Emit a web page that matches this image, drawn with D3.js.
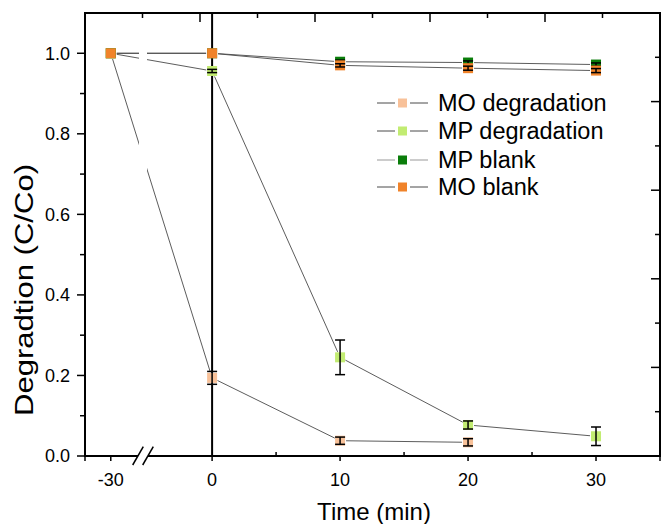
<!DOCTYPE html>
<html><head><meta charset="utf-8">
<script src="https://cdn.jsdelivr.net/npm/d3@7"></script>
<style>body{margin:0;background:#fff}svg{display:block;font-family:"Liberation Sans",Arial,sans-serif}</style>
</head><body>
<script>
// ---- data ----
const times = [-30, 0, 10, 20, 30];
const seriesNames = ["MO degradation", "MP degradation", "MP blank", "MO blank"];
const seriesColors = ["#f8c199", "#c2ec72", "#0a7d0a", "#f0832a"];
const moDegradation = [1.0, 0.194, 0.038, 0.034, null];
const moDegradationErr = [0, 0.016, 0.009, 0.009, null];
const mpDegradation = [1.0, 0.956, 0.245, 0.077, 0.049];
const mpDegradationErr = [0, 0.004, 0.043, 0.010, 0.023];
const mpBlank = [1.0, 1.0, 0.979, 0.977, 0.972];
const mpBlankErr = [0, 0, 0.004, 0.004, 0.004];
const moBlank = [1.0, 1.0, 0.970, 0.963, 0.957];
const moBlankErr = [0, 0, 0.004, 0.005, 0.005];
const xTicks = [-30, 0, 10, 20, 30];
const xMinorTicks = [5, 15, 25];
const yTicks = [0, 0.2, 0.4, 0.6, 0.8, 1.0];
const yMinorTicks = [0.1, 0.3, 0.5, 0.7, 0.9];

const values = [moDegradation, mpDegradation, mpBlank, moBlank];
const errors = [moDegradationErr, mpDegradationErr, mpBlankErr, moBlankErr];

// ---- layout ----
const W = 662, H = 524;
const L = 85, R = 660, T = 13, B = 456;
const BRK = 143;

const x = d3.scaleLinear().domain([-32, -27.5, -5.4, 35]).range([L, BRK, BRK, R]);
const y = d3.scaleLinear().domain([0, 1.1]).range([B, T]);
// second layer (top / right) axes
const x2 = d3.scaleLinear().domain([0, 5]).range([L, R]);
const y2 = d3.scaleLinear().domain([0, 5]).range([B, T]);

const svg = d3.select("body").append("svg").attr("width", W).attr("height", H);

// ---- connecting lines ----
const gap = 6;
const lineG = svg.append("g").attr("stroke", "#4a4a4a").attr("stroke-width", 0.9).attr("fill", "none");
values.forEach((vals, si) => {
  for (let i = 0; i < times.length - 1; i++) {
    if (vals[i] == null || vals[i + 1] == null) continue;
    const x1 = x(times[i]), y1 = y(vals[i]), xx2 = x(times[i + 1]), yy2 = y(vals[i + 1]);
    const dx = xx2 - x1, dy = yy2 - y1, len = Math.hypot(dx, dy);
    const ux = dx / len, uy = dy / len;
    lineG.append("line")
      .attr("x1", x1 + ux * gap).attr("y1", y1 + uy * gap)
      .attr("x2", xx2 - ux * gap).attr("y2", yy2 - uy * gap);
  }
});

// axis break gap in plot
svg.append("rect").attr("x", 139).attr("y", T + 2).attr("width", 8).attr("height", B - T - 4).attr("fill", "#fff");

// vertical line at t = 0
svg.append("line").attr("x1", x(0)).attr("x2", x(0)).attr("y1", T).attr("y2", B)
  .attr("stroke", "#000").attr("stroke-width", 2);

// ---- markers and error bars ----
const ms = 10;
values.forEach((vals, si) => {
  const g = svg.append("g");
  times.forEach((t, i) => {
    if (vals[i] == null) return;
    g.append("rect").attr("x", x(t) - ms / 2).attr("y", y(vals[i]) - ms / 2)
      .attr("width", ms).attr("height", ms).attr("fill", seriesColors[si]);
  });
  times.forEach((t, i) => {
    const e = errors[si][i];
    if (vals[i] == null || !e) return;
    const cx = x(t), yt = y(vals[i] + e), yb = y(vals[i] - e);
    const eg = g.append("g").attr("stroke", "#000").attr("stroke-width", 1.5);
    eg.append("line").attr("x1", cx).attr("x2", cx).attr("y1", yt).attr("y2", yb);
    eg.append("line").attr("x1", cx - 5).attr("x2", cx + 5).attr("y1", yt).attr("y2", yt);
    eg.append("line").attr("x1", cx - 5).attr("x2", cx + 5).attr("y1", yb).attr("y2", yb);
  });
});

// ---- axes ----
const ax = svg.append("g").attr("stroke", "#000").attr("fill", "none");
// left
ax.append("line").attr("x1", L).attr("x2", L).attr("y1", T - 1).attr("y2", B + 1).attr("stroke-width", 2);
yTicks.forEach(v => ax.append("line").attr("x1", L - 8).attr("x2", L).attr("y1", y(v)).attr("y2", y(v)).attr("stroke-width", 1.5));
yMinorTicks.forEach(v => ax.append("line").attr("x1", L - 5).attr("x2", L).attr("y1", y(v)).attr("y2", y(v)).attr("stroke-width", 1.5));
// bottom (with break)
ax.append("line").attr("x1", L - 1).attr("x2", 138).attr("y1", B).attr("y2", B).attr("stroke-width", 2);
ax.append("line").attr("x1", 148).attr("x2", R + 1).attr("y1", B).attr("y2", B).attr("stroke-width", 2);
xTicks.concat([-32, 35]).forEach(v => ax.append("line").attr("x1", x(v)).attr("x2", x(v)).attr("y1", B).attr("y2", B + 5).attr("stroke-width", 1.5));
xMinorTicks.forEach(v => ax.append("line").attr("x1", x(v)).attr("x2", x(v)).attr("y1", B).attr("y2", B - 4).attr("stroke-width", 1.5));
// break slashes
ax.append("line").attr("x1", 132.7).attr("y1", 465).attr("x2", 143.3).attr("y2", 446.7).attr("stroke-width", 1.5);
ax.append("line").attr("x1", 142.7).attr("y1", 465).attr("x2", 153.3).attr("y2", 446.7).attr("stroke-width", 1.5);
// top
ax.append("line").attr("x1", L - 1).attr("x2", R + 1).attr("y1", T).attr("y2", T).attr("stroke-width", 2);
d3.range(0, 5.01, 1).forEach(v => ax.append("line").attr("x1", x2(v)).attr("x2", x2(v)).attr("y1", T).attr("y2", T + 9).attr("stroke-width", 1.5));
d3.range(0.5, 5, 1).forEach(v => ax.append("line").attr("x1", x2(v)).attr("x2", x2(v)).attr("y1", T).attr("y2", T + 5).attr("stroke-width", 1.5));
// right
ax.append("line").attr("x1", R).attr("x2", R).attr("y1", T - 1).attr("y2", B + 1).attr("stroke-width", 2);
d3.range(0, 5.01, 1).forEach(v => ax.append("line").attr("x1", R - 9).attr("x2", R).attr("y1", y2(v)).attr("y2", y2(v)).attr("stroke-width", 1.5));
d3.range(0.5, 5, 1).forEach(v => ax.append("line").attr("x1", R - 5).attr("x2", R).attr("y1", y2(v)).attr("y2", y2(v)).attr("stroke-width", 1.5));

// tick labels
const fmt = d3.format(".1f");
svg.append("g").selectAll("text").data(yTicks).join("text")
  .attr("x", 70).attr("y", d => y(d)).attr("dy", "0.36em").attr("text-anchor", "end")
  .attr("font-size", 18).attr("fill", "#000").text(d => fmt(d));
svg.append("g").selectAll("text").data(xTicks).join("text")
  .attr("x", d => x(d)).attr("y", 486).attr("text-anchor", "middle")
  .attr("font-size", 18).attr("fill", "#000").text(d => d);

// axis titles
svg.append("text").attr("x", 374).attr("y", 520).attr("text-anchor", "middle")
  .attr("font-size", 24).attr("fill", "#000").text("Time (min)");
svg.append("text").attr("transform", "translate(33,290) rotate(-90)").attr("text-anchor", "middle")
  .attr("font-size", 25).attr("textLength", 252).attr("lengthAdjust", "spacingAndGlyphs")
  .attr("fill", "#000").text("Degradtion (C/Co)");

// ---- legend ----
const legY = [103, 131, 160, 187];
const lg = svg.append("g");
seriesNames.forEach((name, i) => {
  const yy = legY[i];
  lg.append("line").attr("x1", 377).attr("x2", 395).attr("y1", yy).attr("y2", yy).attr("stroke", i === 2 ? "#999" : "#4a4a4a").attr("stroke-width", 1);
  lg.append("line").attr("x1", 410).attr("x2", 428).attr("y1", yy).attr("y2", yy).attr("stroke", i === 2 ? "#999" : "#4a4a4a").attr("stroke-width", 1);
  lg.append("rect").attr("x", 398).attr("y", yy - 4.5).attr("width", 9).attr("height", 9).attr("fill", seriesColors[i]);
  lg.append("text").attr("x", 438).attr("y", yy).attr("dy", "0.36em").attr("font-size", 23.5).attr("fill", "#000").text(name);
});
</script>
</body></html>
